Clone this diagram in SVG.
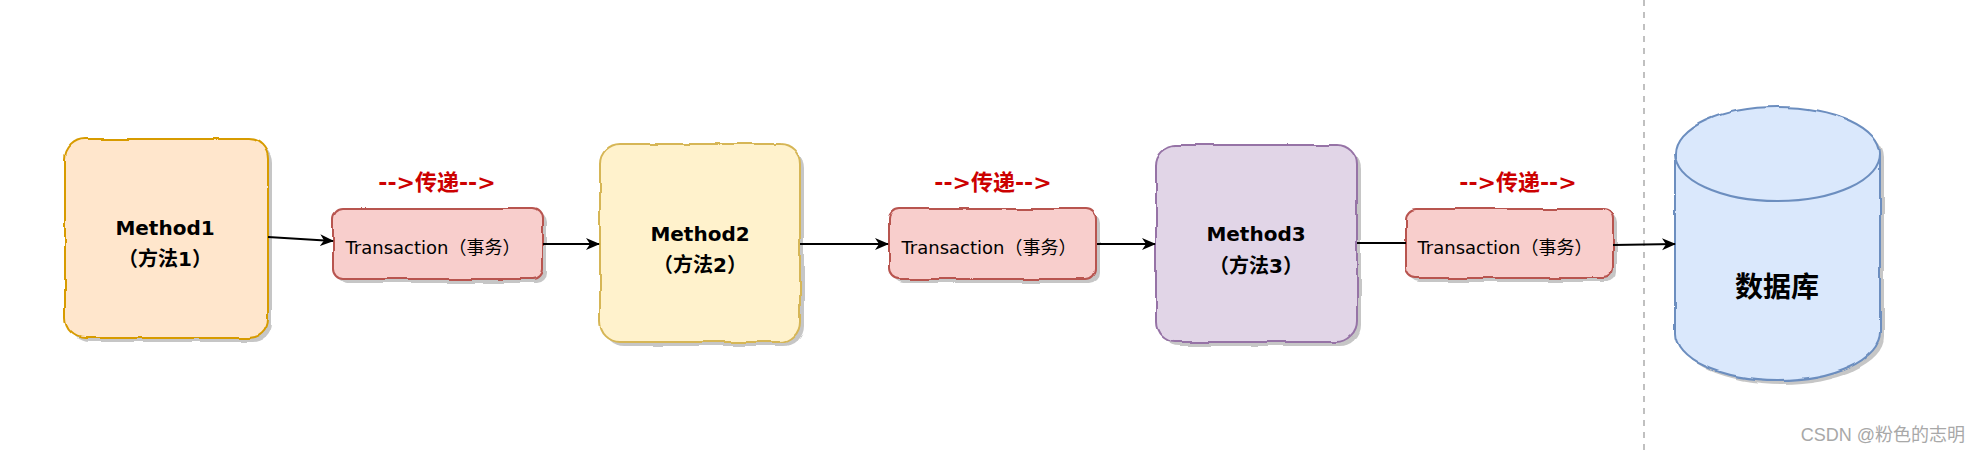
<svg xmlns="http://www.w3.org/2000/svg" width="1980" height="454" viewBox="0 0 1980 454">
<style>
.shadow{fill:#bdbdbd;opacity:0.85;stroke:none}
.mt{font-family:"DejaVu Sans","Noto Sans CJK SC",sans-serif;font-weight:bold;font-size:20px;fill:#000;text-anchor:middle}
.tt{font-family:"DejaVu Sans","Noto Sans CJK SC",sans-serif;font-size:18px;fill:#000;text-anchor:middle}
.lbl{font-family:"DejaVu Sans","Noto Sans CJK SC",sans-serif;font-weight:bold;font-size:22px;fill:#cc0000;text-anchor:middle}
.db{font-family:"Noto Sans CJK SC",sans-serif;font-weight:bold;font-size:28px;fill:#000;text-anchor:middle}
.wm{font-family:"Liberation Sans","Noto Sans CJK SC",sans-serif;font-size:18px;fill:#a8a8a8;text-anchor:end}
.edge{fill:none;stroke:#000;stroke-width:2}
</style>
<defs>
<filter id="rough" x="-5%" y="-5%" width="110%" height="110%">
<feTurbulence type="fractalNoise" baseFrequency="0.03" numOctaves="2" seed="3" result="n"/>
<feDisplacementMap in="SourceGraphic" in2="n" scale="4" xChannelSelector="R" yChannelSelector="G"/>
</filter>
<marker id="arr" markerWidth="14" markerHeight="14" refX="13" refY="7" orient="auto" markerUnits="userSpaceOnUse" viewBox="0 0 14 14">
<path d="M0,1 L14,7 L0,13 L4,7 Z" fill="#000"/>
</marker>
</defs>
<rect width="1980" height="454" fill="#fff"/>
<line x1="1644" y1="0" x2="1644" y2="454" stroke="#c0c0c0" stroke-width="2" stroke-dasharray="6,6"/>

<g id="method1">
<rect class="shadow" x="69" y="143" width="203" height="199" rx="20" filter="url(#rough)"/>
<rect x="65" y="139" width="203" height="199" rx="20" fill="#ffe6cc" stroke="#d79b00" stroke-width="2" filter="url(#rough)"/>
<text class="mt" x="165" y="235">Method1</text>
<text class="mt" x="165" y="266">（方法1）</text>
</g>

<g id="tx1">
<rect class="shadow" x="337" y="213" width="210" height="70" rx="10" filter="url(#rough)"/>
<rect x="333" y="209" width="210" height="70" rx="10" fill="#f8cecc" stroke="#b85450" stroke-width="2" filter="url(#rough)"/>
<text class="tt" x="433" y="254">Transaction（事务）</text>
</g>
<text class="lbl" x="437" y="190">--&gt;传递--&gt;</text>

<g id="method2">
<rect class="shadow" x="604" y="148" width="200" height="198" rx="20" filter="url(#rough)"/>
<rect x="600" y="144" width="200" height="198" rx="20" fill="#fff2cc" stroke="#d6b656" stroke-width="2" filter="url(#rough)"/>
<text class="mt" x="700" y="241">Method2</text>
<text class="mt" x="700" y="272">（方法2）</text>
</g>

<g id="tx2">
<rect class="shadow" x="893" y="213" width="207" height="70" rx="10" filter="url(#rough)"/>
<rect x="889" y="209" width="207" height="70" rx="10" fill="#f8cecc" stroke="#b85450" stroke-width="2" filter="url(#rough)"/>
<text class="tt" x="989" y="254">Transaction（事务）</text>
</g>
<text class="lbl" x="993" y="190">--&gt;传递--&gt;</text>

<g id="method3">
<rect class="shadow" x="1160" y="149" width="201" height="197" rx="20" filter="url(#rough)"/>
<rect x="1156" y="145" width="201" height="197" rx="20" fill="#e1d5e7" stroke="#9673a6" stroke-width="2" filter="url(#rough)"/>
<text class="mt" x="1256" y="241">Method3</text>
<text class="mt" x="1256" y="273">（方法3）</text>
</g>

<g id="tx3">
<rect class="shadow" x="1410" y="213" width="207" height="69" rx="10" filter="url(#rough)"/>
<rect x="1406" y="209" width="207" height="69" rx="10" fill="#f8cecc" stroke="#b85450" stroke-width="2" filter="url(#rough)"/>
<text class="tt" x="1505" y="254">Transaction（事务）</text>
</g>
<text class="lbl" x="1518" y="190">--&gt;传递--&gt;</text>

<g id="database">
<path class="shadow" d="M1679,158 A102.5,47 0 0 1 1884,158 L1884,337 A102.5,47 0 0 1 1679,337 Z" filter="url(#rough)"/>
<path d="M1675,154 A102.5,47 0 0 1 1880,154 L1880,333 A102.5,47 0 0 1 1675,333 Z" fill="#dae8fc" stroke="#6c8ebf" stroke-width="2" filter="url(#rough)"/>
<path d="M1675,154 A102.5,47 0 0 0 1880,154" fill="none" stroke="#6c8ebf" stroke-width="2"/>
<text class="db" x="1777" y="297">数据库</text>
</g>

<g id="connectors">
<path class="edge" d="M268,237 L333,241" marker-end="url(#arr)"/>
<path class="edge" d="M543,244 L599,244" marker-end="url(#arr)"/>
<path class="edge" d="M800,244 L888,244" marker-end="url(#arr)"/>
<path class="edge" d="M1097,244 L1155,244" marker-end="url(#arr)"/>
<path class="edge" d="M1357,243 L1406,243"/>
<path class="edge" d="M1613,245 L1675,244" marker-end="url(#arr)"/>
</g>

<text class="wm" x="1965" y="441">CSDN @粉色的志明</text>
</svg>
